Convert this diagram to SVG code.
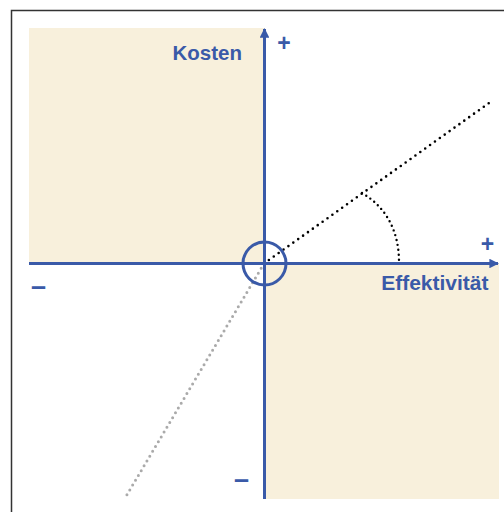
<svg xmlns="http://www.w3.org/2000/svg" width="504" height="512" viewBox="0 0 504 512">
<style>
.q{fill:#f8f0dc}
.ax{stroke:#3a5aa8;stroke-width:3;fill:none}
.lb{font-family:"Liberation Sans",Arial,sans-serif;font-weight:bold;fill:#3a5aa8}
</style>
<defs>
<marker id="ah" viewBox="0 0 10 10" refX="9" refY="5" markerWidth="3.2" markerHeight="3.2" orient="auto" markerUnits="strokeWidth">
<path d="M0,0 L10,5 L0,10 z" fill="#3a5aa8"/>
</marker>
</defs>
<rect x="11.5" y="10.5" width="520" height="520" fill="#fff" stroke="#333" stroke-width="1.5"/>
<g id="quadrant-top-left"><rect class="q" x="29" y="28" width="235.5" height="235.5"/></g>
<g id="quadrant-bottom-right"><rect class="q" x="264.5" y="263.5" width="234.5" height="235.5"/></g>
<g id="connectors">
<line x1="264" y1="263.5" x2="125" y2="498" stroke="#aaa" stroke-width="3" stroke-linecap="round" stroke-dasharray="0 5.6"/>
<line x1="264" y1="263.5" x2="489" y2="103" stroke="#000" stroke-width="2.6" stroke-linecap="round" stroke-dasharray="0 6"/>
<path d="M362,193 C386,207 399,231 399,262" stroke="#000" stroke-width="2.4" stroke-linecap="round" stroke-dasharray="0 5" fill="none"/>
<line class="ax" x1="29" y1="263.5" x2="498" y2="263.5" marker-end="url(#ah)"/>
<line class="ax" x1="264.5" y1="499" x2="264.5" y2="29" marker-end="url(#ah)"/>
<circle class="ax" cx="264.5" cy="263.5" r="21.5" stroke-width="2.8"/>
</g>
<g id="labels">
<text class="lb" x="242" y="60" font-size="20.5" text-anchor="end">Kosten</text>
<text class="lb" x="488.5" y="289.5" font-size="21" text-anchor="end">Effektivität</text>
<text class="lb" x="284" y="50.5" font-size="23" text-anchor="middle">+</text>
<text class="lb" x="487.5" y="251.5" font-size="23" text-anchor="middle">+</text>
<text class="lb" x="38.5" y="295" font-size="27" text-anchor="middle">–</text>
<text class="lb" x="241.5" y="488" font-size="27" text-anchor="middle">–</text>
</g>
</svg>
